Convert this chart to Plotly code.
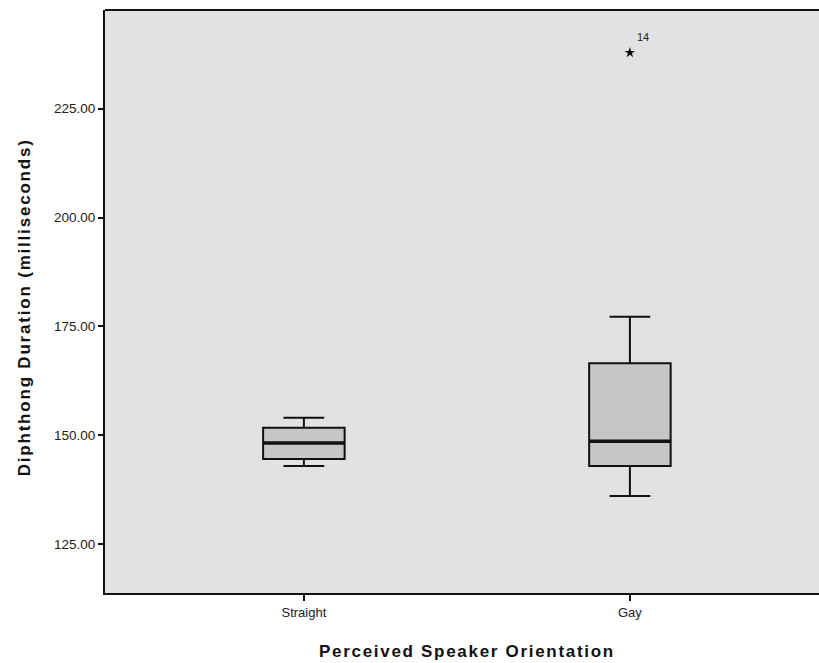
import plotly.graph_objects as go

# Perceived speaker orientation groups and their diphthong duration summaries (ms)
categories = ["Straight", "Gay"]
positions = [0, 1]
lower_whisker = [142.9, 136.0]
q1_values = [144.5, 142.9]
medians = [148.2, 148.6]
q3_values = [151.7, 166.5]
upper_whisker = [154.0, 177.2]

# Extreme case flagged in the Gay group
outlier_group = [1]
outlier_values = [237.9]
outlier_ids = ["14"]

y_ticks = [125, 150, 175, 200, 225]
y_tick_labels = [f"{v:.2f}" for v in y_ticks]

BOX_WIDTH = 0.25
FONT = "Liberation Sans, Arial, sans-serif"

fig = go.Figure()

fig.add_trace(go.Box(
    x=positions,
    q1=q1_values,
    median=medians,
    q3=q3_values,
    lowerfence=lower_whisker,
    upperfence=upper_whisker,
    width=BOX_WIDTH,
    whiskerwidth=0.5,
    fillcolor="#c6c6c6",
    line=dict(color="#111111", width=2),
    boxpoints=False,
    hoverinfo="skip",
    showlegend=False,
))

# Heavier median bars drawn over each box
for pos, med in zip(positions, medians):
    fig.add_trace(go.Scatter(
        x=[pos - BOX_WIDTH / 2, pos + BOX_WIDTH / 2],
        y=[med, med],
        mode="lines",
        line=dict(color="#111111", width=3.5),
        hoverinfo="skip",
        showlegend=False,
    ))

# Extreme value marked with a star and its case number
fig.add_trace(go.Scatter(
    x=outlier_group,
    y=outlier_values,
    mode="markers",
    marker=dict(symbol="star", size=8, color="#111111"),
    hoverinfo="skip",
    showlegend=False,
))
for gx, gy, label in zip(outlier_group, outlier_values, outlier_ids):
    fig.add_annotation(
        x=gx, y=gy, text=label, showarrow=False,
        xanchor="left", yanchor="bottom", xshift=5, yshift=8,
        font=dict(family=FONT, size=11, color="#222222"),
    )

fig.update_layout(
    width=819,
    height=663,
    autosize=False,
    margin=dict(l=105, r=0, t=10, b=70),
    paper_bgcolor="white",
    plot_bgcolor="#e2e2e2",
    showlegend=False,
    font=dict(family=FONT, color="#222222"),
)

fig.update_xaxes(
    range=[-0.61, 1.58],
    tickmode="array",
    tickvals=positions,
    ticktext=categories,
    ticks="outside",
    ticklen=6,
    tickwidth=2,
    tickcolor="#111111",
    tickfont=dict(family=FONT, size=13, color="#222222"),
    showline=True,
    linecolor="#111111",
    linewidth=2,
    showgrid=False,
    zeroline=False,
)

fig.update_yaxes(
    range=[113.7, 247.7],
    tickmode="array",
    tickvals=y_ticks,
    ticktext=y_tick_labels,
    ticks="outside",
    ticklen=5,
    tickwidth=2,
    tickcolor="#111111",
    tickfont=dict(family=FONT, size=13.5, color="#222222"),
    showline=True,
    linecolor="#111111",
    linewidth=2,
    showgrid=False,
    zeroline=False,
)

# Top frame edge
fig.add_shape(
    type="line", xref="paper", yref="paper",
    x0=0, x1=1, y0=1, y1=1,
    line=dict(color="#111111", width=2),
)

# Axis titles
fig.add_annotation(
    text="<span style='letter-spacing:1.7px'><b>Perceived Speaker Orientation</b></span>",
    xref="paper", yref="paper", x=0.507, y=0,
    yanchor="middle", yshift=-58, showarrow=False,
    font=dict(family=FONT, size=17, color="#111111"),
)
fig.add_annotation(
    text="<span style='letter-spacing:1.8px'><b>Diphthong Duration (milliseconds)</b></span>",
    xref="paper", yref="paper", x=0, y=0.49,
    xanchor="center", xshift=-81, textangle=-90, showarrow=False,
    font=dict(family=FONT, size=17, color="#111111"),
)

fig.write_html("out.html")
